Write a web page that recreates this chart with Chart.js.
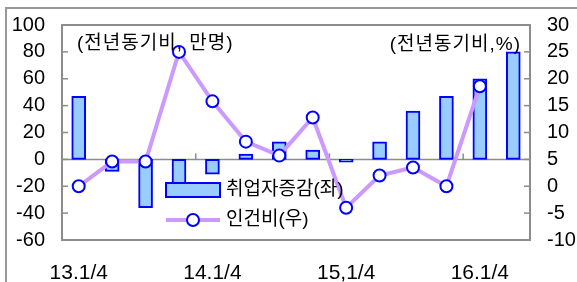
<!DOCTYPE html>
<html><head><meta charset="utf-8">
<script src="https://cdn.jsdelivr.net/npm/chart.js@4.4.1/dist/chart.umd.min.js"></script>
<style>
html,body{margin:0;padding:0;background:#fff;overflow:hidden}
#wrap{position:relative;width:577px;height:282px}
</style></head>
<body><div id="wrap"><canvas id="c" width="577" height="282"></canvas></div>
<script>
const categories = ['13.1/4','13.2/4','13.3/4','13.4/4','14.1/4','14.2/4','14.3/4','14.4/4','15.1/4','15.2/4','15.3/4','15.4/4','16.1/4','16.2/4'];
const tickLabels = ['13.1/4','','','','14.1/4','','','','15,1/4','','','','16.1/4',''];
const employment = [47,-9,-36,-25,-11,4,13,7,-2,13,36,47,60,80];
const laborCost = [0,4.6,4.6,25,15.8,8.3,5.7,12.8,-4,2,3.5,0,18.6,null];
const seriesNames = ['취업자증감(좌)','인건비(우)'];
const unitLeft = '(전년동기비, 만명)';
const unitRight = '(전년동기비,%)';

const FONT = '"Liberation Sans", Arial, "Noto Sans CJK KR", sans-serif';
const KFONT = '"Liberation Sans", "Noto Sans CJK KR", sans-serif';
const GRAY = '#8c8c8c';

const decor = {
  id:'decor',
  beforeDraw(chart){
    const ctx = chart.ctx;
    ctx.save();
    ctx.strokeStyle = '#999';
    ctx.lineWidth = 2;
    ctx.strokeRect(6, 8, 700, 400);
    ctx.restore();
  },
  beforeDatasetsDraw(chart){
    const {ctx, chartArea:a, scales} = chart;
    const y = scales.y, y1 = scales.y1, x = scales.x;
    ctx.save();
    ctx.strokeStyle = GRAY;
    ctx.lineWidth = 2;
    ctx.strokeRect(a.left, a.top, a.right-a.left, a.bottom-a.top);
    ctx.lineWidth = 1.5;
    const z = y.getPixelForValue(0);
    ctx.beginPath(); ctx.moveTo(a.left, z); ctx.lineTo(a.right, z); ctx.stroke();
    y.ticks.forEach(t=>{const p=y.getPixelForValue(t.value); ctx.beginPath(); ctx.moveTo(a.left,p); ctx.lineTo(a.left+6,p); ctx.stroke();});
    y1.ticks.forEach(t=>{const p=y1.getPixelForValue(t.value); ctx.beginPath(); ctx.moveTo(a.right,p); ctx.lineTo(a.right-6,p); ctx.stroke();});
    const half = (x.getPixelForValue(1)-x.getPixelForValue(0))/2;
    tickLabels.forEach((l,i)=>{ if(l && i>0){ const p = x.getPixelForValue(i)-half; ctx.beginPath(); ctx.moveTo(p,z); ctx.lineTo(p,z-6); ctx.stroke(); }});
    ctx.restore();
  },
  afterDatasetsDraw(chart){
    const {ctx, chartArea:a} = chart;
    ctx.save();
    ctx.fillStyle = '#000';
    ctx.textBaseline = 'middle';
    ctx.font = '19px ' + KFONT;
    ctx.letterSpacing = '1px';
    ctx.textAlign = 'left';
    ctx.fillText(unitLeft, a.left+15, a.top+19);
    ctx.textAlign = 'right';
    ctx.fillText(unitRight, a.right-9, a.top+20);
    ctx.letterSpacing = '0px';
    const lx = 166, ly1 = 190, ly2 = 220;
    ctx.fillStyle = '#99CCFF';
    ctx.strokeStyle = '#0000FF';
    ctx.lineWidth = 2;
    ctx.fillRect(lx, ly1-7, 54, 14);
    ctx.strokeRect(lx, ly1-7, 54, 14);
    ctx.strokeStyle = '#CC99FF';
    ctx.lineWidth = 4;
    ctx.beginPath(); ctx.moveTo(lx, ly2); ctx.lineTo(lx+54, ly2); ctx.stroke();
    ctx.beginPath(); ctx.arc(lx+27, ly2, 6, 0, Math.PI*2);
    ctx.fillStyle = '#fff'; ctx.fill();
    ctx.strokeStyle = '#0000FF'; ctx.lineWidth = 2; ctx.stroke();
    ctx.fillStyle = '#000';
    ctx.textAlign = 'left';
    ctx.font = '19px ' + KFONT;
    ctx.fillText(seriesNames[0], lx+60, ly1);
    ctx.fillText(seriesNames[1], lx+60, ly2);
    ctx.restore();
  }
};

new Chart(document.getElementById('c'), {
  data: {
    labels: categories,
    datasets: [
      { type:'line', label: seriesNames[1], data: laborCost, yAxisID:'y1', order:0,
        borderColor:'#CC99FF', borderWidth:4, tension:0,
        pointRadius:6, pointBorderWidth:2, pointBackgroundColor:'#fff', pointBorderColor:'#0000FF', spanGaps:false },
      { type:'bar', label: seriesNames[0], data: employment, yAxisID:'y', order:1,
        backgroundColor:'#99CCFF', borderColor:'#0000FF', borderWidth:2, barThickness:14, borderSkipped:false }
    ]
  },
  options: {
    responsive:false, animation:false, devicePixelRatio:1,
    layout:{padding:{top:25, left:0, right:0, bottom:0}},
    plugins:{legend:{display:false}, tooltip:{enabled:false}},
    scales:{
      x:{ offset:true, grid:{display:false}, border:{display:false},
          ticks:{autoSkip:false, maxRotation:0, padding:13, color:'#000', font:{size:21, family:FONT},
                 callback:(v,i)=>tickLabels[i]},
          afterFit:s=>{s.height=42;} },
      y:{ position:'left', min:-60, max:100, grid:{display:false}, border:{display:false},
          ticks:{stepSize:20, autoSkip:false, padding:9, color:'#000', font:{size:20, family:FONT}},
          afterFit:s=>{s.width=62;} },
      y1:{ position:'right', min:-10, max:30, grid:{display:false}, border:{display:false},
          ticks:{stepSize:5, autoSkip:false, padding:9, color:'#000', font:{size:20, family:FONT}},
          afterFit:s=>{s.width=47;} }
    }
  },
  plugins:[decor]
});
</script></body></html>
